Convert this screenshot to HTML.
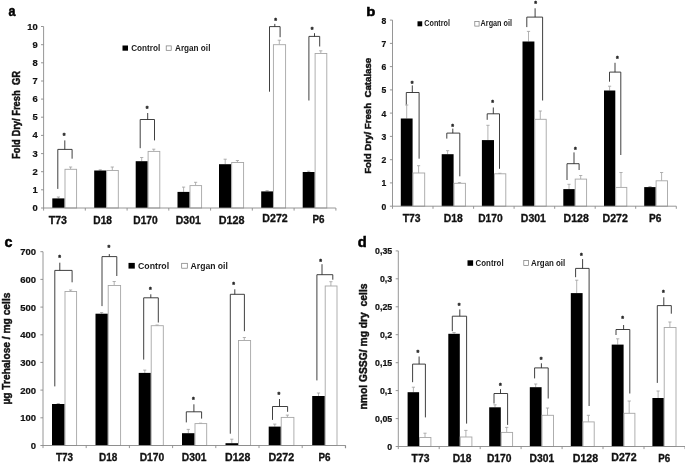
<!DOCTYPE html>
<html lang="en">
<head>
<meta charset="utf-8">
<title>Figure</title>
<style>
html,body{margin:0;padding:0;background:#fff;}
body{width:685px;height:463px;overflow:hidden;}
svg{display:block;font-family:'Liberation Sans', Arial, sans-serif;}
</style>
</head>
<body>
<svg width="685" height="463" viewBox="0 0 685 463">
<rect x="0" y="0" width="685" height="463" fill="#ffffff"/>
<line x1="58.4" y1="198.4" x2="58.4" y2="197.0" stroke="#a0a0a0" stroke-width="0.8"/>
<line x1="56.8" y1="197.0" x2="60.0" y2="197.0" stroke="#a0a0a0" stroke-width="0.8"/>
<rect x="52.3" y="198.4" width="12.3" height="9.6" fill="#000"/>
<line x1="70.6" y1="169.3" x2="70.6" y2="167.0" stroke="#a0a0a0" stroke-width="0.8"/>
<line x1="69.0" y1="167.0" x2="72.2" y2="167.0" stroke="#a0a0a0" stroke-width="0.8"/>
<rect x="65.0" y="169.3" width="11.6" height="38.7" fill="#fff" stroke="#a6a6a6" stroke-width="0.9"/>
<line x1="100.2" y1="170.5" x2="100.2" y2="169.8" stroke="#a0a0a0" stroke-width="0.8"/>
<line x1="98.7" y1="169.8" x2="101.8" y2="169.8" stroke="#a0a0a0" stroke-width="0.8"/>
<rect x="94.2" y="170.5" width="12.1" height="37.5" fill="#000"/>
<line x1="112.3" y1="170.5" x2="112.3" y2="167.0" stroke="#a0a0a0" stroke-width="0.8"/>
<line x1="110.7" y1="167.0" x2="113.9" y2="167.0" stroke="#a0a0a0" stroke-width="0.8"/>
<rect x="106.7" y="170.5" width="11.6" height="37.5" fill="#fff" stroke="#a6a6a6" stroke-width="0.9"/>
<line x1="141.7" y1="161.2" x2="141.7" y2="157.5" stroke="#a0a0a0" stroke-width="0.8"/>
<line x1="140.1" y1="157.5" x2="143.3" y2="157.5" stroke="#a0a0a0" stroke-width="0.8"/>
<rect x="135.7" y="161.2" width="12.0" height="46.8" fill="#000"/>
<line x1="153.8" y1="151.4" x2="153.8" y2="149.2" stroke="#a0a0a0" stroke-width="0.8"/>
<line x1="152.2" y1="149.2" x2="155.3" y2="149.2" stroke="#a0a0a0" stroke-width="0.8"/>
<rect x="148.1" y="151.4" width="11.7" height="56.6" fill="#fff" stroke="#a6a6a6" stroke-width="0.9"/>
<line x1="183.6" y1="191.9" x2="183.6" y2="187.1" stroke="#a0a0a0" stroke-width="0.8"/>
<line x1="182.0" y1="187.1" x2="185.2" y2="187.1" stroke="#a0a0a0" stroke-width="0.8"/>
<rect x="177.5" y="191.9" width="12.1" height="16.1" fill="#000"/>
<line x1="195.6" y1="185.6" x2="195.6" y2="182.3" stroke="#a0a0a0" stroke-width="0.8"/>
<line x1="194.0" y1="182.3" x2="197.2" y2="182.3" stroke="#a0a0a0" stroke-width="0.8"/>
<rect x="190.0" y="185.6" width="11.6" height="22.4" fill="#fff" stroke="#a6a6a6" stroke-width="0.9"/>
<line x1="225.2" y1="164.2" x2="225.2" y2="159.2" stroke="#a0a0a0" stroke-width="0.8"/>
<line x1="223.6" y1="159.2" x2="226.8" y2="159.2" stroke="#a0a0a0" stroke-width="0.8"/>
<rect x="219.0" y="164.2" width="12.3" height="43.8" fill="#000"/>
<line x1="237.4" y1="162.5" x2="237.4" y2="160.5" stroke="#a0a0a0" stroke-width="0.8"/>
<line x1="235.8" y1="160.5" x2="239.0" y2="160.5" stroke="#a0a0a0" stroke-width="0.8"/>
<rect x="231.7" y="162.5" width="11.9" height="45.5" fill="#fff" stroke="#a6a6a6" stroke-width="0.9"/>
<line x1="267.1" y1="191.4" x2="267.1" y2="190.6" stroke="#a0a0a0" stroke-width="0.8"/>
<line x1="265.5" y1="190.6" x2="268.7" y2="190.6" stroke="#a0a0a0" stroke-width="0.8"/>
<rect x="261.2" y="191.4" width="11.8" height="16.6" fill="#000"/>
<line x1="279.3" y1="44.7" x2="279.3" y2="40.2" stroke="#a0a0a0" stroke-width="0.8"/>
<line x1="277.7" y1="40.2" x2="280.9" y2="40.2" stroke="#a0a0a0" stroke-width="0.8"/>
<rect x="273.4" y="44.7" width="12.2" height="163.3" fill="#fff" stroke="#a6a6a6" stroke-width="0.9"/>
<line x1="308.7" y1="172.0" x2="308.7" y2="171.2" stroke="#a0a0a0" stroke-width="0.8"/>
<line x1="307.1" y1="171.2" x2="310.3" y2="171.2" stroke="#a0a0a0" stroke-width="0.8"/>
<rect x="302.7" y="172.0" width="12.0" height="36.0" fill="#000"/>
<line x1="320.8" y1="53.5" x2="320.8" y2="50.8" stroke="#a0a0a0" stroke-width="0.8"/>
<line x1="319.1" y1="50.8" x2="322.4" y2="50.8" stroke="#a0a0a0" stroke-width="0.8"/>
<rect x="315.1" y="53.5" width="11.7" height="154.5" fill="#fff" stroke="#a6a6a6" stroke-width="0.9"/>
<line x1="43.6" y1="26.5" x2="43.6" y2="208.0" stroke="#8a8a8a" stroke-width="0.9"/>
<line x1="43.6" y1="208.0" x2="335.8" y2="208.0" stroke="#8a8a8a" stroke-width="0.9"/>
<line x1="41.0" y1="208.0" x2="43.6" y2="208.0" stroke="#8a8a8a" stroke-width="0.9"/>
<text x="37.8" y="211.0" font-size="9.4" font-weight="bold" text-anchor="end" fill="#111" stroke="#111" stroke-width="0.2">0</text>
<line x1="41.0" y1="189.8" x2="43.6" y2="189.8" stroke="#8a8a8a" stroke-width="0.9"/>
<text x="37.8" y="192.8" font-size="9.4" font-weight="bold" text-anchor="end" fill="#111" stroke="#111" stroke-width="0.2">1</text>
<line x1="41.0" y1="171.7" x2="43.6" y2="171.7" stroke="#8a8a8a" stroke-width="0.9"/>
<text x="37.8" y="174.7" font-size="9.4" font-weight="bold" text-anchor="end" fill="#111" stroke="#111" stroke-width="0.2">2</text>
<line x1="41.0" y1="153.6" x2="43.6" y2="153.6" stroke="#8a8a8a" stroke-width="0.9"/>
<text x="37.8" y="156.5" font-size="9.4" font-weight="bold" text-anchor="end" fill="#111" stroke="#111" stroke-width="0.2">3</text>
<line x1="41.0" y1="135.4" x2="43.6" y2="135.4" stroke="#8a8a8a" stroke-width="0.9"/>
<text x="37.8" y="138.4" font-size="9.4" font-weight="bold" text-anchor="end" fill="#111" stroke="#111" stroke-width="0.2">4</text>
<line x1="41.0" y1="117.2" x2="43.6" y2="117.2" stroke="#8a8a8a" stroke-width="0.9"/>
<text x="37.8" y="120.2" font-size="9.4" font-weight="bold" text-anchor="end" fill="#111" stroke="#111" stroke-width="0.2">5</text>
<line x1="41.0" y1="99.1" x2="43.6" y2="99.1" stroke="#8a8a8a" stroke-width="0.9"/>
<text x="37.8" y="102.1" font-size="9.4" font-weight="bold" text-anchor="end" fill="#111" stroke="#111" stroke-width="0.2">6</text>
<line x1="41.0" y1="81.0" x2="43.6" y2="81.0" stroke="#8a8a8a" stroke-width="0.9"/>
<text x="37.8" y="83.9" font-size="9.4" font-weight="bold" text-anchor="end" fill="#111" stroke="#111" stroke-width="0.2">7</text>
<line x1="41.0" y1="62.8" x2="43.6" y2="62.8" stroke="#8a8a8a" stroke-width="0.9"/>
<text x="37.8" y="65.8" font-size="9.4" font-weight="bold" text-anchor="end" fill="#111" stroke="#111" stroke-width="0.2">8</text>
<line x1="41.0" y1="44.7" x2="43.6" y2="44.7" stroke="#8a8a8a" stroke-width="0.9"/>
<text x="37.8" y="47.6" font-size="9.4" font-weight="bold" text-anchor="end" fill="#111" stroke="#111" stroke-width="0.2">9</text>
<line x1="41.0" y1="26.5" x2="43.6" y2="26.5" stroke="#8a8a8a" stroke-width="0.9"/>
<text x="37.8" y="29.5" font-size="9.4" font-weight="bold" text-anchor="end" fill="#111" stroke="#111" stroke-width="0.2">10</text>
<line x1="43.6" y1="208.0" x2="43.6" y2="210.6" stroke="#8a8a8a" stroke-width="0.9"/>
<line x1="85.3" y1="208.0" x2="85.3" y2="210.6" stroke="#8a8a8a" stroke-width="0.9"/>
<line x1="127.1" y1="208.0" x2="127.1" y2="210.6" stroke="#8a8a8a" stroke-width="0.9"/>
<line x1="168.8" y1="208.0" x2="168.8" y2="210.6" stroke="#8a8a8a" stroke-width="0.9"/>
<line x1="210.6" y1="208.0" x2="210.6" y2="210.6" stroke="#8a8a8a" stroke-width="0.9"/>
<line x1="252.3" y1="208.0" x2="252.3" y2="210.6" stroke="#8a8a8a" stroke-width="0.9"/>
<line x1="294.1" y1="208.0" x2="294.1" y2="210.6" stroke="#8a8a8a" stroke-width="0.9"/>
<line x1="335.9" y1="208.0" x2="335.9" y2="210.6" stroke="#8a8a8a" stroke-width="0.9"/>
<path d="M57.8 188.9V149.4H72.1V158.7M64.8 149.4V140.4" fill="none" stroke="#2a2a2a" stroke-width="0.9"/>
<text x="64.0" y="138.0" font-size="7" font-weight="bold" text-anchor="middle" fill="#222" stroke="#222" stroke-width="0.4">*</text>
<path d="M140.2 148.2V119.5H154.5V140.4M147.7 119.5V113.0" fill="none" stroke="#2a2a2a" stroke-width="0.9"/>
<text x="147.0" y="111.2" font-size="7" font-weight="bold" text-anchor="middle" fill="#222" stroke="#222" stroke-width="0.4">*</text>
<path d="M269.5 91.7V26.6H280.1V37.2M274.8 26.6V23.9" fill="none" stroke="#2a2a2a" stroke-width="0.9"/>
<text x="275.6" y="22.7" font-size="7" font-weight="bold" text-anchor="middle" fill="#222" stroke="#222" stroke-width="0.4">*</text>
<path d="M308.9 100.5V36.4H319.7V46.5M314.5 36.4V33.2" fill="none" stroke="#2a2a2a" stroke-width="0.9"/>
<text x="312.0" y="32.1" font-size="7" font-weight="bold" text-anchor="middle" fill="#222" stroke="#222" stroke-width="0.4">*</text>
<text x="57.9" y="223.5" font-size="10" font-weight="bold" text-anchor="middle" fill="#111" textLength="18.2" lengthAdjust="spacingAndGlyphs" stroke="#111" stroke-width="0.3">T73</text>
<text x="102.7" y="223.5" font-size="10" font-weight="bold" text-anchor="middle" fill="#111" textLength="18.7" lengthAdjust="spacingAndGlyphs" stroke="#111" stroke-width="0.3">D18</text>
<text x="145.5" y="223.5" font-size="10" font-weight="bold" text-anchor="middle" fill="#111" textLength="24.4" lengthAdjust="spacingAndGlyphs" stroke="#111" stroke-width="0.3">D170</text>
<text x="188.3" y="223.5" font-size="10" font-weight="bold" text-anchor="middle" fill="#111" textLength="25.0" lengthAdjust="spacingAndGlyphs" stroke="#111" stroke-width="0.3">D301</text>
<text x="231.7" y="223.5" font-size="10" font-weight="bold" text-anchor="middle" fill="#111" textLength="25.8" lengthAdjust="spacingAndGlyphs" stroke="#111" stroke-width="0.3">D128</text>
<text x="275.0" y="222.3" font-size="10" font-weight="bold" text-anchor="middle" fill="#111" textLength="25.4" lengthAdjust="spacingAndGlyphs" stroke="#111" stroke-width="0.3">D272</text>
<text x="318.5" y="223.3" font-size="10" font-weight="bold" text-anchor="middle" fill="#111" textLength="12.0" lengthAdjust="spacingAndGlyphs" stroke="#111" stroke-width="0.3">P6</text>
<rect x="122.5" y="45.5" width="5.5" height="5.2" fill="#000"/>
<text x="131.2" y="51.2" font-size="8.2" font-weight="bold" text-anchor="start" fill="#1a1a1a" textLength="29.0" lengthAdjust="spacingAndGlyphs">Control</text>
<rect x="166.2" y="45.9" width="5.0" height="4.4" fill="#fff" stroke="#777" stroke-width="0.7"/>
<text x="175.0" y="51.2" font-size="8.2" font-weight="bold" text-anchor="start" fill="#1a1a1a" textLength="35.4" lengthAdjust="spacingAndGlyphs">Argan oil</text>
<text x="20.2" y="115.0" font-size="10" font-weight="bold" text-anchor="middle" fill="#111" textLength="88.0" lengthAdjust="spacingAndGlyphs" transform="rotate(-90 20.2 115.0)" style="white-space:pre" stroke="#111" stroke-width="0.45">Fold Dry/ Fresh  GR</text>
<text x="8.6" y="16.3" font-size="14" font-weight="bold" text-anchor="start" fill="#000" textLength="7.0" lengthAdjust="spacingAndGlyphs" stroke="#000" stroke-width="0.5">a</text>
<line x1="406.7" y1="118.5" x2="406.7" y2="105.0" stroke="#a0a0a0" stroke-width="0.8"/>
<line x1="405.1" y1="105.0" x2="408.3" y2="105.0" stroke="#a0a0a0" stroke-width="0.8"/>
<rect x="400.8" y="118.5" width="11.8" height="87.7" fill="#000"/>
<line x1="418.6" y1="173.0" x2="418.6" y2="165.7" stroke="#a0a0a0" stroke-width="0.8"/>
<line x1="417.0" y1="165.7" x2="420.2" y2="165.7" stroke="#a0a0a0" stroke-width="0.8"/>
<rect x="413.0" y="173.0" width="11.7" height="33.2" fill="#fff" stroke="#a6a6a6" stroke-width="0.9"/>
<line x1="447.6" y1="154.2" x2="447.6" y2="150.7" stroke="#a0a0a0" stroke-width="0.8"/>
<line x1="446.0" y1="150.7" x2="449.2" y2="150.7" stroke="#a0a0a0" stroke-width="0.8"/>
<rect x="441.7" y="154.2" width="11.9" height="52.0" fill="#000"/>
<line x1="459.5" y1="183.3" x2="459.5" y2="182.6" stroke="#a0a0a0" stroke-width="0.8"/>
<line x1="457.9" y1="182.6" x2="461.1" y2="182.6" stroke="#a0a0a0" stroke-width="0.8"/>
<rect x="454.0" y="183.3" width="11.4" height="22.9" fill="#fff" stroke="#a6a6a6" stroke-width="0.9"/>
<line x1="487.9" y1="140.1" x2="487.9" y2="125.3" stroke="#a0a0a0" stroke-width="0.8"/>
<line x1="486.3" y1="125.3" x2="489.6" y2="125.3" stroke="#a0a0a0" stroke-width="0.8"/>
<rect x="481.9" y="140.1" width="12.1" height="66.1" fill="#000"/>
<line x1="499.9" y1="173.8" x2="499.9" y2="173.3" stroke="#a0a0a0" stroke-width="0.8"/>
<line x1="498.3" y1="173.3" x2="501.5" y2="173.3" stroke="#a0a0a0" stroke-width="0.8"/>
<rect x="494.4" y="173.8" width="11.4" height="32.4" fill="#fff" stroke="#a6a6a6" stroke-width="0.9"/>
<line x1="528.5" y1="41.5" x2="528.5" y2="31.4" stroke="#a0a0a0" stroke-width="0.8"/>
<line x1="526.9" y1="31.4" x2="530.1" y2="31.4" stroke="#a0a0a0" stroke-width="0.8"/>
<rect x="522.5" y="41.5" width="11.9" height="164.7" fill="#000"/>
<line x1="540.3" y1="119.3" x2="540.3" y2="111.0" stroke="#a0a0a0" stroke-width="0.8"/>
<line x1="538.7" y1="111.0" x2="541.9" y2="111.0" stroke="#a0a0a0" stroke-width="0.8"/>
<rect x="534.8" y="119.3" width="11.4" height="86.9" fill="#fff" stroke="#a6a6a6" stroke-width="0.9"/>
<line x1="569.0" y1="189.1" x2="569.0" y2="184.3" stroke="#a0a0a0" stroke-width="0.8"/>
<line x1="567.4" y1="184.3" x2="570.6" y2="184.3" stroke="#a0a0a0" stroke-width="0.8"/>
<rect x="563.3" y="189.1" width="11.5" height="17.1" fill="#000"/>
<line x1="580.7" y1="179.1" x2="580.7" y2="175.5" stroke="#a0a0a0" stroke-width="0.8"/>
<line x1="579.1" y1="175.5" x2="582.3" y2="175.5" stroke="#a0a0a0" stroke-width="0.8"/>
<rect x="575.2" y="179.1" width="11.4" height="27.1" fill="#fff" stroke="#a6a6a6" stroke-width="0.9"/>
<line x1="609.6" y1="90.5" x2="609.6" y2="86.2" stroke="#a0a0a0" stroke-width="0.8"/>
<line x1="608.0" y1="86.2" x2="611.2" y2="86.2" stroke="#a0a0a0" stroke-width="0.8"/>
<rect x="604.0" y="90.5" width="11.3" height="115.7" fill="#000"/>
<line x1="621.0" y1="187.4" x2="621.0" y2="172.5" stroke="#a0a0a0" stroke-width="0.8"/>
<line x1="619.4" y1="172.5" x2="622.6" y2="172.5" stroke="#a0a0a0" stroke-width="0.8"/>
<rect x="615.7" y="187.4" width="11.1" height="18.8" fill="#fff" stroke="#a6a6a6" stroke-width="0.9"/>
<line x1="650.0" y1="187.1" x2="650.0" y2="186.5" stroke="#a0a0a0" stroke-width="0.8"/>
<line x1="648.4" y1="186.5" x2="651.6" y2="186.5" stroke="#a0a0a0" stroke-width="0.8"/>
<rect x="644.2" y="187.1" width="11.5" height="19.1" fill="#000"/>
<line x1="661.6" y1="180.8" x2="661.6" y2="172.5" stroke="#a0a0a0" stroke-width="0.8"/>
<line x1="660.0" y1="172.5" x2="663.2" y2="172.5" stroke="#a0a0a0" stroke-width="0.8"/>
<rect x="656.1" y="180.8" width="11.4" height="25.4" fill="#fff" stroke="#a6a6a6" stroke-width="0.9"/>
<line x1="392.5" y1="20.1" x2="392.5" y2="206.2" stroke="#8a8a8a" stroke-width="0.9"/>
<line x1="392.5" y1="206.2" x2="676.3" y2="206.2" stroke="#8a8a8a" stroke-width="0.9"/>
<line x1="389.9" y1="206.2" x2="392.5" y2="206.2" stroke="#8a8a8a" stroke-width="0.9"/>
<text x="386.2" y="209.7" font-size="8.6" font-weight="bold" text-anchor="end" fill="#111" stroke="#111" stroke-width="0.2">0</text>
<line x1="389.9" y1="182.9" x2="392.5" y2="182.9" stroke="#8a8a8a" stroke-width="0.9"/>
<text x="386.2" y="186.4" font-size="8.6" font-weight="bold" text-anchor="end" fill="#111" stroke="#111" stroke-width="0.2">1</text>
<line x1="389.9" y1="159.7" x2="392.5" y2="159.7" stroke="#8a8a8a" stroke-width="0.9"/>
<text x="386.2" y="163.2" font-size="8.6" font-weight="bold" text-anchor="end" fill="#111" stroke="#111" stroke-width="0.2">2</text>
<line x1="389.9" y1="136.4" x2="392.5" y2="136.4" stroke="#8a8a8a" stroke-width="0.9"/>
<text x="386.2" y="139.9" font-size="8.6" font-weight="bold" text-anchor="end" fill="#111" stroke="#111" stroke-width="0.2">3</text>
<line x1="389.9" y1="113.1" x2="392.5" y2="113.1" stroke="#8a8a8a" stroke-width="0.9"/>
<text x="386.2" y="116.6" font-size="8.6" font-weight="bold" text-anchor="end" fill="#111" stroke="#111" stroke-width="0.2">4</text>
<line x1="389.9" y1="89.9" x2="392.5" y2="89.9" stroke="#8a8a8a" stroke-width="0.9"/>
<text x="386.2" y="93.4" font-size="8.6" font-weight="bold" text-anchor="end" fill="#111" stroke="#111" stroke-width="0.2">5</text>
<line x1="389.9" y1="66.6" x2="392.5" y2="66.6" stroke="#8a8a8a" stroke-width="0.9"/>
<text x="386.2" y="70.1" font-size="8.6" font-weight="bold" text-anchor="end" fill="#111" stroke="#111" stroke-width="0.2">6</text>
<line x1="389.9" y1="43.4" x2="392.5" y2="43.4" stroke="#8a8a8a" stroke-width="0.9"/>
<text x="386.2" y="46.9" font-size="8.6" font-weight="bold" text-anchor="end" fill="#111" stroke="#111" stroke-width="0.2">7</text>
<line x1="389.9" y1="20.1" x2="392.5" y2="20.1" stroke="#8a8a8a" stroke-width="0.9"/>
<text x="386.2" y="23.6" font-size="8.6" font-weight="bold" text-anchor="end" fill="#111" stroke="#111" stroke-width="0.2">8</text>
<line x1="392.5" y1="206.2" x2="392.5" y2="208.8" stroke="#8a8a8a" stroke-width="0.9"/>
<line x1="433.0" y1="206.2" x2="433.0" y2="208.8" stroke="#8a8a8a" stroke-width="0.9"/>
<line x1="473.6" y1="206.2" x2="473.6" y2="208.8" stroke="#8a8a8a" stroke-width="0.9"/>
<line x1="514.1" y1="206.2" x2="514.1" y2="208.8" stroke="#8a8a8a" stroke-width="0.9"/>
<line x1="554.7" y1="206.2" x2="554.7" y2="208.8" stroke="#8a8a8a" stroke-width="0.9"/>
<line x1="595.2" y1="206.2" x2="595.2" y2="208.8" stroke="#8a8a8a" stroke-width="0.9"/>
<line x1="635.7" y1="206.2" x2="635.7" y2="208.8" stroke="#8a8a8a" stroke-width="0.9"/>
<line x1="676.3" y1="206.2" x2="676.3" y2="208.8" stroke="#8a8a8a" stroke-width="0.9"/>
<path d="M406.3 104.5V92.5H419.1V158.7M412.3 92.5V85.4" fill="none" stroke="#2a2a2a" stroke-width="0.9"/>
<text x="412.1" y="86.1" font-size="7" font-weight="bold" text-anchor="middle" fill="#222" stroke="#222" stroke-width="0.4">*</text>
<path d="M446.8 138.6V133.1H459.8V176.3M452.8 133.1V128.6" fill="none" stroke="#2a2a2a" stroke-width="0.9"/>
<text x="452.5" y="129.2" font-size="7" font-weight="bold" text-anchor="middle" fill="#222" stroke="#222" stroke-width="0.4">*</text>
<path d="M487.2 119.8V113.8H499.5V168.8M493.3 113.8V107.5" fill="none" stroke="#2a2a2a" stroke-width="0.9"/>
<text x="492.7" y="105.2" font-size="7" font-weight="bold" text-anchor="middle" fill="#222" stroke="#222" stroke-width="0.4">*</text>
<path d="M526.8 27.1V17.1H542.6V100.5M535.1 17.1V8.3" fill="none" stroke="#2a2a2a" stroke-width="0.9"/>
<text x="535.6" y="5.9" font-size="7" font-weight="bold" text-anchor="middle" fill="#222" stroke="#222" stroke-width="0.4">*</text>
<path d="M567.0 180.0V163.7H579.1V170.0M574.0 163.7V152.4" fill="none" stroke="#2a2a2a" stroke-width="0.9"/>
<text x="575.3" y="152.4" font-size="7" font-weight="bold" text-anchor="middle" fill="#222" stroke="#222" stroke-width="0.4">*</text>
<path d="M609.5 81.7V72.1H620.8V155.0M615.0 72.1V62.8" fill="none" stroke="#2a2a2a" stroke-width="0.9"/>
<text x="617.3" y="61.0" font-size="7" font-weight="bold" text-anchor="middle" fill="#222" stroke="#222" stroke-width="0.4">*</text>
<text x="411.7" y="222.3" font-size="10" font-weight="bold" text-anchor="middle" fill="#111" textLength="17.8" lengthAdjust="spacingAndGlyphs" stroke="#111" stroke-width="0.3">T73</text>
<text x="453.3" y="222.3" font-size="10" font-weight="bold" text-anchor="middle" fill="#111" textLength="19.0" lengthAdjust="spacingAndGlyphs" stroke="#111" stroke-width="0.3">D18</text>
<text x="490.4" y="222.3" font-size="10" font-weight="bold" text-anchor="middle" fill="#111" textLength="24.5" lengthAdjust="spacingAndGlyphs" stroke="#111" stroke-width="0.3">D170</text>
<text x="533.4" y="222.3" font-size="10" font-weight="bold" text-anchor="middle" fill="#111" textLength="25.1" lengthAdjust="spacingAndGlyphs" stroke="#111" stroke-width="0.3">D301</text>
<text x="576.2" y="222.3" font-size="10" font-weight="bold" text-anchor="middle" fill="#111" textLength="25.2" lengthAdjust="spacingAndGlyphs" stroke="#111" stroke-width="0.3">D128</text>
<text x="615.2" y="221.5" font-size="10" font-weight="bold" text-anchor="middle" fill="#111" textLength="25.3" lengthAdjust="spacingAndGlyphs" stroke="#111" stroke-width="0.3">D272</text>
<text x="655.2" y="222.3" font-size="10" font-weight="bold" text-anchor="middle" fill="#111" textLength="12.4" lengthAdjust="spacingAndGlyphs" stroke="#111" stroke-width="0.3">P6</text>
<rect x="417.5" y="21.3" width="4.7" height="5.0" fill="#000"/>
<text x="424.3" y="26.3" font-size="8.2" font-weight="bold" text-anchor="start" fill="#1a1a1a" textLength="25.6" lengthAdjust="spacingAndGlyphs">Control</text>
<rect x="474.8" y="21.5" width="4.3" height="4.6" fill="#fff" stroke="#777" stroke-width="0.7"/>
<text x="480.6" y="26.3" font-size="8.2" font-weight="bold" text-anchor="start" fill="#1a1a1a" textLength="31.4" lengthAdjust="spacingAndGlyphs">Argan oil</text>
<text x="371.5" y="115.8" font-size="8.8" font-weight="bold" text-anchor="middle" fill="#111" textLength="116.0" lengthAdjust="spacingAndGlyphs" transform="rotate(-90 371.5 115.8)" style="white-space:pre" stroke="#111" stroke-width="0.45">Fold Dry/ Fresh  Catalase</text>
<text x="366.2" y="16.4" font-size="13.6" font-weight="bold" text-anchor="start" fill="#000" textLength="9.1" lengthAdjust="spacingAndGlyphs" stroke="#000" stroke-width="0.5">b</text>
<line x1="58.3" y1="404.0" x2="58.3" y2="403.5" stroke="#a0a0a0" stroke-width="0.8"/>
<line x1="56.7" y1="403.5" x2="59.9" y2="403.5" stroke="#a0a0a0" stroke-width="0.8"/>
<rect x="52.0" y="404.0" width="12.6" height="41.5" fill="#000"/>
<line x1="70.6" y1="291.5" x2="70.6" y2="290.0" stroke="#a0a0a0" stroke-width="0.8"/>
<line x1="69.0" y1="290.0" x2="72.2" y2="290.0" stroke="#a0a0a0" stroke-width="0.8"/>
<rect x="65.0" y="291.5" width="11.6" height="154.0" fill="#fff" stroke="#a6a6a6" stroke-width="0.9"/>
<line x1="101.7" y1="313.7" x2="101.7" y2="312.5" stroke="#a0a0a0" stroke-width="0.8"/>
<line x1="100.1" y1="312.5" x2="103.2" y2="312.5" stroke="#a0a0a0" stroke-width="0.8"/>
<rect x="95.5" y="313.7" width="12.3" height="131.8" fill="#000"/>
<line x1="114.2" y1="285.5" x2="114.2" y2="281.5" stroke="#a0a0a0" stroke-width="0.8"/>
<line x1="112.6" y1="281.5" x2="115.8" y2="281.5" stroke="#a0a0a0" stroke-width="0.8"/>
<rect x="108.2" y="285.5" width="12.4" height="160.0" fill="#fff" stroke="#a6a6a6" stroke-width="0.9"/>
<line x1="144.8" y1="372.9" x2="144.8" y2="370.1" stroke="#a0a0a0" stroke-width="0.8"/>
<line x1="143.2" y1="370.1" x2="146.3" y2="370.1" stroke="#a0a0a0" stroke-width="0.8"/>
<rect x="138.7" y="372.9" width="12.1" height="72.6" fill="#000"/>
<line x1="157.1" y1="325.7" x2="157.1" y2="325.0" stroke="#a0a0a0" stroke-width="0.8"/>
<line x1="155.5" y1="325.0" x2="158.7" y2="325.0" stroke="#a0a0a0" stroke-width="0.8"/>
<rect x="151.2" y="325.7" width="12.1" height="119.8" fill="#fff" stroke="#a6a6a6" stroke-width="0.9"/>
<line x1="188.3" y1="433.2" x2="188.3" y2="429.4" stroke="#a0a0a0" stroke-width="0.8"/>
<line x1="186.7" y1="429.4" x2="189.9" y2="429.4" stroke="#a0a0a0" stroke-width="0.8"/>
<rect x="182.0" y="433.2" width="12.6" height="12.3" fill="#000"/>
<line x1="200.6" y1="423.6" x2="200.6" y2="423.2" stroke="#a0a0a0" stroke-width="0.8"/>
<line x1="199.0" y1="423.2" x2="202.2" y2="423.2" stroke="#a0a0a0" stroke-width="0.8"/>
<rect x="195.0" y="423.6" width="11.7" height="21.9" fill="#fff" stroke="#a6a6a6" stroke-width="0.9"/>
<line x1="231.8" y1="443.2" x2="231.8" y2="439.2" stroke="#a0a0a0" stroke-width="0.8"/>
<line x1="230.2" y1="439.2" x2="233.4" y2="439.2" stroke="#a0a0a0" stroke-width="0.8"/>
<rect x="225.5" y="443.2" width="12.6" height="2.3" fill="#000"/>
<line x1="244.3" y1="340.5" x2="244.3" y2="337.5" stroke="#a0a0a0" stroke-width="0.8"/>
<line x1="242.8" y1="337.5" x2="245.9" y2="337.5" stroke="#a0a0a0" stroke-width="0.8"/>
<rect x="238.5" y="340.5" width="12.1" height="105.0" fill="#fff" stroke="#a6a6a6" stroke-width="0.9"/>
<line x1="274.8" y1="426.6" x2="274.8" y2="424.1" stroke="#a0a0a0" stroke-width="0.8"/>
<line x1="273.1" y1="424.1" x2="276.4" y2="424.1" stroke="#a0a0a0" stroke-width="0.8"/>
<rect x="268.7" y="426.6" width="12.1" height="18.9" fill="#000"/>
<line x1="287.4" y1="417.4" x2="287.4" y2="415.1" stroke="#a0a0a0" stroke-width="0.8"/>
<line x1="285.8" y1="415.1" x2="289.0" y2="415.1" stroke="#a0a0a0" stroke-width="0.8"/>
<rect x="281.2" y="417.4" width="12.7" height="28.1" fill="#fff" stroke="#a6a6a6" stroke-width="0.9"/>
<line x1="318.5" y1="396.0" x2="318.5" y2="393.0" stroke="#a0a0a0" stroke-width="0.8"/>
<line x1="316.9" y1="393.0" x2="320.1" y2="393.0" stroke="#a0a0a0" stroke-width="0.8"/>
<rect x="312.2" y="396.0" width="12.6" height="49.5" fill="#000"/>
<line x1="330.9" y1="286.0" x2="330.9" y2="281.7" stroke="#a0a0a0" stroke-width="0.8"/>
<line x1="329.3" y1="281.7" x2="332.5" y2="281.7" stroke="#a0a0a0" stroke-width="0.8"/>
<rect x="325.2" y="286.0" width="11.8" height="159.5" fill="#fff" stroke="#a6a6a6" stroke-width="0.9"/>
<line x1="43.0" y1="251.7" x2="43.0" y2="445.5" stroke="#8a8a8a" stroke-width="0.9"/>
<line x1="43.0" y1="445.5" x2="345.6" y2="445.5" stroke="#8a8a8a" stroke-width="0.9"/>
<line x1="40.4" y1="445.5" x2="43.0" y2="445.5" stroke="#8a8a8a" stroke-width="0.9"/>
<text x="36.1" y="448.9" font-size="9.5" font-weight="bold" text-anchor="end" fill="#111" stroke="#111" stroke-width="0.2">0</text>
<line x1="40.4" y1="417.8" x2="43.0" y2="417.8" stroke="#8a8a8a" stroke-width="0.9"/>
<text x="36.1" y="421.2" font-size="9.5" font-weight="bold" text-anchor="end" fill="#111" stroke="#111" stroke-width="0.2">100</text>
<line x1="40.4" y1="390.1" x2="43.0" y2="390.1" stroke="#8a8a8a" stroke-width="0.9"/>
<text x="36.1" y="393.5" font-size="9.5" font-weight="bold" text-anchor="end" fill="#111" stroke="#111" stroke-width="0.2">200</text>
<line x1="40.4" y1="362.4" x2="43.0" y2="362.4" stroke="#8a8a8a" stroke-width="0.9"/>
<text x="36.1" y="365.9" font-size="9.5" font-weight="bold" text-anchor="end" fill="#111" stroke="#111" stroke-width="0.2">300</text>
<line x1="40.4" y1="334.8" x2="43.0" y2="334.8" stroke="#8a8a8a" stroke-width="0.9"/>
<text x="36.1" y="338.2" font-size="9.5" font-weight="bold" text-anchor="end" fill="#111" stroke="#111" stroke-width="0.2">400</text>
<line x1="40.4" y1="307.1" x2="43.0" y2="307.1" stroke="#8a8a8a" stroke-width="0.9"/>
<text x="36.1" y="310.5" font-size="9.5" font-weight="bold" text-anchor="end" fill="#111" stroke="#111" stroke-width="0.2">500</text>
<line x1="40.4" y1="279.4" x2="43.0" y2="279.4" stroke="#8a8a8a" stroke-width="0.9"/>
<text x="36.1" y="282.8" font-size="9.5" font-weight="bold" text-anchor="end" fill="#111" stroke="#111" stroke-width="0.2">600</text>
<line x1="40.4" y1="251.7" x2="43.0" y2="251.7" stroke="#8a8a8a" stroke-width="0.9"/>
<text x="36.1" y="255.1" font-size="9.5" font-weight="bold" text-anchor="end" fill="#111" stroke="#111" stroke-width="0.2">700</text>
<line x1="43.0" y1="445.5" x2="43.0" y2="448.1" stroke="#8a8a8a" stroke-width="0.9"/>
<line x1="86.2" y1="445.5" x2="86.2" y2="448.1" stroke="#8a8a8a" stroke-width="0.9"/>
<line x1="129.4" y1="445.5" x2="129.4" y2="448.1" stroke="#8a8a8a" stroke-width="0.9"/>
<line x1="172.6" y1="445.5" x2="172.6" y2="448.1" stroke="#8a8a8a" stroke-width="0.9"/>
<line x1="215.8" y1="445.5" x2="215.8" y2="448.1" stroke="#8a8a8a" stroke-width="0.9"/>
<line x1="259.0" y1="445.5" x2="259.0" y2="448.1" stroke="#8a8a8a" stroke-width="0.9"/>
<line x1="302.2" y1="445.5" x2="302.2" y2="448.1" stroke="#8a8a8a" stroke-width="0.9"/>
<line x1="345.4" y1="445.5" x2="345.4" y2="448.1" stroke="#8a8a8a" stroke-width="0.9"/>
<path d="M54.8 386.4V270.4H72.1V282.3M59.8 270.4V262.7" fill="none" stroke="#2a2a2a" stroke-width="0.9"/>
<text x="59.5" y="260.3" font-size="7" font-weight="bold" text-anchor="middle" fill="#222" stroke="#222" stroke-width="0.4">*</text>
<path d="M102.0 306.1V256.6H116.8V276.0M109.3 256.6V254.1" fill="none" stroke="#2a2a2a" stroke-width="0.9"/>
<text x="108.8" y="250.3" font-size="7" font-weight="bold" text-anchor="middle" fill="#222" stroke="#222" stroke-width="0.4">*</text>
<path d="M143.7 359.6V297.8H158.3V322.5M150.8 297.8V294.3" fill="none" stroke="#2a2a2a" stroke-width="0.9"/>
<text x="150.3" y="292.2" font-size="7" font-weight="bold" text-anchor="middle" fill="#222" stroke="#222" stroke-width="0.4">*</text>
<path d="M186.3 422.4V411.8H201.6V418.6M193.9 411.8V404.3" fill="none" stroke="#2a2a2a" stroke-width="0.9"/>
<text x="193.4" y="401.7" font-size="7" font-weight="bold" text-anchor="middle" fill="#222" stroke="#222" stroke-width="0.4">*</text>
<path d="M230.3 433.7V294.3H244.4V331.2M234.8 294.3V289.3" fill="none" stroke="#2a2a2a" stroke-width="0.9"/>
<text x="233.6" y="287.2" font-size="7" font-weight="bold" text-anchor="middle" fill="#222" stroke="#222" stroke-width="0.4">*</text>
<path d="M272.5 419.9V406.5H287.6V411.8M279.5 406.5V399.0" fill="none" stroke="#2a2a2a" stroke-width="0.9"/>
<text x="278.8" y="396.7" font-size="7" font-weight="bold" text-anchor="middle" fill="#222" stroke="#222" stroke-width="0.4">*</text>
<path d="M316.9 380.4V274.7H332.8V279.7M322.0 274.7V264.2" fill="none" stroke="#2a2a2a" stroke-width="0.9"/>
<text x="320.7" y="263.8" font-size="7" font-weight="bold" text-anchor="middle" fill="#222" stroke="#222" stroke-width="0.4">*</text>
<text x="64.6" y="461.3" font-size="10" font-weight="bold" text-anchor="middle" fill="#111" textLength="17.0" lengthAdjust="spacingAndGlyphs" stroke="#111" stroke-width="0.3">T73</text>
<text x="108.2" y="461.3" font-size="10" font-weight="bold" text-anchor="middle" fill="#111" textLength="18.3" lengthAdjust="spacingAndGlyphs" stroke="#111" stroke-width="0.3">D18</text>
<text x="152.0" y="461.3" font-size="10" font-weight="bold" text-anchor="middle" fill="#111" textLength="24.6" lengthAdjust="spacingAndGlyphs" stroke="#111" stroke-width="0.3">D170</text>
<text x="194.1" y="461.3" font-size="10" font-weight="bold" text-anchor="middle" fill="#111" textLength="24.6" lengthAdjust="spacingAndGlyphs" stroke="#111" stroke-width="0.3">D301</text>
<text x="237.7" y="461.3" font-size="10" font-weight="bold" text-anchor="middle" fill="#111" textLength="25.2" lengthAdjust="spacingAndGlyphs" stroke="#111" stroke-width="0.3">D128</text>
<text x="281.3" y="460.5" font-size="10" font-weight="bold" text-anchor="middle" fill="#111" textLength="25.6" lengthAdjust="spacingAndGlyphs" stroke="#111" stroke-width="0.3">D272</text>
<text x="324.5" y="461.3" font-size="10" font-weight="bold" text-anchor="middle" fill="#111" textLength="12.0" lengthAdjust="spacingAndGlyphs" stroke="#111" stroke-width="0.3">P6</text>
<rect x="128.5" y="262.9" width="6.3" height="5.7" fill="#000"/>
<text x="138.0" y="269.0" font-size="9.6" font-weight="bold" text-anchor="start" fill="#1a1a1a" textLength="31.1" lengthAdjust="spacingAndGlyphs">Control</text>
<rect x="181.7" y="263.3" width="5.6" height="4.9" fill="#fff" stroke="#777" stroke-width="0.7"/>
<text x="190.6" y="269.0" font-size="9.6" font-weight="bold" text-anchor="start" fill="#1a1a1a" textLength="37.3" lengthAdjust="spacingAndGlyphs">Argan oil</text>
<text x="9.6" y="348.6" font-size="10" font-weight="bold" text-anchor="middle" fill="#111" textLength="112.0" lengthAdjust="spacingAndGlyphs" transform="rotate(-90 9.6 348.6)" style="white-space:pre" stroke="#111" stroke-width="0.45">µg Trehalose / mg cells</text>
<text x="4.6" y="247.4" font-size="15" font-weight="bold" text-anchor="start" fill="#000" textLength="7.9" lengthAdjust="spacingAndGlyphs" stroke="#000" stroke-width="0.5">c</text>
<line x1="413.4" y1="392.2" x2="413.4" y2="387.2" stroke="#a0a0a0" stroke-width="0.8"/>
<line x1="411.8" y1="387.2" x2="415.0" y2="387.2" stroke="#a0a0a0" stroke-width="0.8"/>
<rect x="407.6" y="392.2" width="11.5" height="54.3" fill="#000"/>
<line x1="425.0" y1="437.5" x2="425.0" y2="433.2" stroke="#a0a0a0" stroke-width="0.8"/>
<line x1="423.4" y1="433.2" x2="426.6" y2="433.2" stroke="#a0a0a0" stroke-width="0.8"/>
<rect x="419.5" y="437.5" width="11.4" height="9.0" fill="#fff" stroke="#a6a6a6" stroke-width="0.9"/>
<line x1="454.1" y1="333.8" x2="454.1" y2="332.5" stroke="#a0a0a0" stroke-width="0.8"/>
<line x1="452.4" y1="332.5" x2="455.7" y2="332.5" stroke="#a0a0a0" stroke-width="0.8"/>
<rect x="448.3" y="333.8" width="11.5" height="112.7" fill="#000"/>
<line x1="465.9" y1="437.0" x2="465.9" y2="430.4" stroke="#a0a0a0" stroke-width="0.8"/>
<line x1="464.2" y1="430.4" x2="467.5" y2="430.4" stroke="#a0a0a0" stroke-width="0.8"/>
<rect x="460.2" y="437.0" width="11.7" height="9.5" fill="#fff" stroke="#a6a6a6" stroke-width="0.9"/>
<line x1="495.0" y1="407.3" x2="495.0" y2="404.8" stroke="#a0a0a0" stroke-width="0.8"/>
<line x1="493.4" y1="404.8" x2="496.6" y2="404.8" stroke="#a0a0a0" stroke-width="0.8"/>
<rect x="489.2" y="407.3" width="11.6" height="39.2" fill="#000"/>
<line x1="506.7" y1="432.4" x2="506.7" y2="427.4" stroke="#a0a0a0" stroke-width="0.8"/>
<line x1="505.1" y1="427.4" x2="508.3" y2="427.4" stroke="#a0a0a0" stroke-width="0.8"/>
<rect x="501.2" y="432.4" width="11.4" height="14.1" fill="#fff" stroke="#a6a6a6" stroke-width="0.9"/>
<line x1="535.7" y1="387.2" x2="535.7" y2="384.0" stroke="#a0a0a0" stroke-width="0.8"/>
<line x1="534.1" y1="384.0" x2="537.3" y2="384.0" stroke="#a0a0a0" stroke-width="0.8"/>
<rect x="529.8" y="387.2" width="11.8" height="59.3" fill="#000"/>
<line x1="547.5" y1="415.3" x2="547.5" y2="408.0" stroke="#a0a0a0" stroke-width="0.8"/>
<line x1="545.9" y1="408.0" x2="549.1" y2="408.0" stroke="#a0a0a0" stroke-width="0.8"/>
<rect x="542.0" y="415.3" width="11.5" height="31.2" fill="#fff" stroke="#a6a6a6" stroke-width="0.9"/>
<line x1="576.7" y1="293.1" x2="576.7" y2="280.2" stroke="#a0a0a0" stroke-width="0.8"/>
<line x1="575.1" y1="280.2" x2="578.3" y2="280.2" stroke="#a0a0a0" stroke-width="0.8"/>
<rect x="570.8" y="293.1" width="11.8" height="153.4" fill="#000"/>
<line x1="588.4" y1="421.9" x2="588.4" y2="415.3" stroke="#a0a0a0" stroke-width="0.8"/>
<line x1="586.8" y1="415.3" x2="590.0" y2="415.3" stroke="#a0a0a0" stroke-width="0.8"/>
<rect x="583.0" y="421.9" width="11.2" height="24.6" fill="#fff" stroke="#a6a6a6" stroke-width="0.9"/>
<line x1="617.7" y1="344.6" x2="617.7" y2="338.8" stroke="#a0a0a0" stroke-width="0.8"/>
<line x1="616.1" y1="338.8" x2="619.3" y2="338.8" stroke="#a0a0a0" stroke-width="0.8"/>
<rect x="611.7" y="344.6" width="11.9" height="101.9" fill="#000"/>
<line x1="629.2" y1="413.3" x2="629.2" y2="401.0" stroke="#a0a0a0" stroke-width="0.8"/>
<line x1="627.6" y1="401.0" x2="630.9" y2="401.0" stroke="#a0a0a0" stroke-width="0.8"/>
<rect x="624.0" y="413.3" width="10.9" height="33.2" fill="#fff" stroke="#a6a6a6" stroke-width="0.9"/>
<line x1="658.1" y1="398.0" x2="658.1" y2="391.0" stroke="#a0a0a0" stroke-width="0.8"/>
<line x1="656.5" y1="391.0" x2="659.7" y2="391.0" stroke="#a0a0a0" stroke-width="0.8"/>
<rect x="652.4" y="398.0" width="11.4" height="48.5" fill="#000"/>
<line x1="669.9" y1="327.5" x2="669.9" y2="322.0" stroke="#a0a0a0" stroke-width="0.8"/>
<line x1="668.3" y1="322.0" x2="671.5" y2="322.0" stroke="#a0a0a0" stroke-width="0.8"/>
<rect x="664.2" y="327.5" width="11.8" height="119.0" fill="#fff" stroke="#a6a6a6" stroke-width="0.9"/>
<line x1="398.3" y1="250.9" x2="398.3" y2="446.5" stroke="#8a8a8a" stroke-width="0.9"/>
<line x1="398.3" y1="446.5" x2="685.0" y2="446.5" stroke="#8a8a8a" stroke-width="0.9"/>
<line x1="395.7" y1="446.5" x2="398.3" y2="446.5" stroke="#8a8a8a" stroke-width="0.9"/>
<text x="392.2" y="449.9" font-size="8.8" font-weight="bold" text-anchor="end" fill="#111" stroke="#111" stroke-width="0.2">0</text>
<line x1="395.7" y1="418.6" x2="398.3" y2="418.6" stroke="#8a8a8a" stroke-width="0.9"/>
<text x="392.2" y="421.9" font-size="8.8" font-weight="bold" text-anchor="end" fill="#111" stroke="#111" stroke-width="0.2">0,05</text>
<line x1="395.7" y1="390.6" x2="398.3" y2="390.6" stroke="#8a8a8a" stroke-width="0.9"/>
<text x="392.2" y="394.0" font-size="8.8" font-weight="bold" text-anchor="end" fill="#111" stroke="#111" stroke-width="0.2">0,1</text>
<line x1="395.7" y1="362.7" x2="398.3" y2="362.7" stroke="#8a8a8a" stroke-width="0.9"/>
<text x="392.2" y="366.0" font-size="8.8" font-weight="bold" text-anchor="end" fill="#111" stroke="#111" stroke-width="0.2">0,15</text>
<line x1="395.7" y1="334.7" x2="398.3" y2="334.7" stroke="#8a8a8a" stroke-width="0.9"/>
<text x="392.2" y="338.1" font-size="8.8" font-weight="bold" text-anchor="end" fill="#111" stroke="#111" stroke-width="0.2">0,2</text>
<line x1="395.7" y1="306.8" x2="398.3" y2="306.8" stroke="#8a8a8a" stroke-width="0.9"/>
<text x="392.2" y="310.2" font-size="8.8" font-weight="bold" text-anchor="end" fill="#111" stroke="#111" stroke-width="0.2">0,25</text>
<line x1="395.7" y1="278.8" x2="398.3" y2="278.8" stroke="#8a8a8a" stroke-width="0.9"/>
<text x="392.2" y="282.2" font-size="8.8" font-weight="bold" text-anchor="end" fill="#111" stroke="#111" stroke-width="0.2">0,3</text>
<line x1="395.7" y1="250.9" x2="398.3" y2="250.9" stroke="#8a8a8a" stroke-width="0.9"/>
<text x="392.2" y="254.3" font-size="8.8" font-weight="bold" text-anchor="end" fill="#111" stroke="#111" stroke-width="0.2">0,35</text>
<line x1="398.3" y1="446.5" x2="398.3" y2="449.1" stroke="#8a8a8a" stroke-width="0.9"/>
<line x1="439.2" y1="446.5" x2="439.2" y2="449.1" stroke="#8a8a8a" stroke-width="0.9"/>
<line x1="480.2" y1="446.5" x2="480.2" y2="449.1" stroke="#8a8a8a" stroke-width="0.9"/>
<line x1="521.1" y1="446.5" x2="521.1" y2="449.1" stroke="#8a8a8a" stroke-width="0.9"/>
<line x1="562.1" y1="446.5" x2="562.1" y2="449.1" stroke="#8a8a8a" stroke-width="0.9"/>
<line x1="603.0" y1="446.5" x2="603.0" y2="449.1" stroke="#8a8a8a" stroke-width="0.9"/>
<line x1="644.0" y1="446.5" x2="644.0" y2="449.1" stroke="#8a8a8a" stroke-width="0.9"/>
<line x1="685.0" y1="446.5" x2="685.0" y2="449.1" stroke="#8a8a8a" stroke-width="0.9"/>
<path d="M412.6 382.2V364.1H425.4V417.4M419.1 364.1V356.5" fill="none" stroke="#2a2a2a" stroke-width="0.9"/>
<text x="417.9" y="355.2" font-size="7" font-weight="bold" text-anchor="middle" fill="#222" stroke="#222" stroke-width="0.4">*</text>
<path d="M452.3 331.2V316.2H466.6V423.6M459.8 316.2V309.4" fill="none" stroke="#2a2a2a" stroke-width="0.9"/>
<text x="459.1" y="308.1" font-size="7" font-weight="bold" text-anchor="middle" fill="#222" stroke="#222" stroke-width="0.4">*</text>
<path d="M494.0 403.5V393.5H507.6V424.9M500.5 393.5V389.2" fill="none" stroke="#2a2a2a" stroke-width="0.9"/>
<text x="500.3" y="387.9" font-size="7" font-weight="bold" text-anchor="middle" fill="#222" stroke="#222" stroke-width="0.4">*</text>
<path d="M534.6 378.4V367.9H548.2V398.5M541.4 367.9V363.3" fill="none" stroke="#2a2a2a" stroke-width="0.9"/>
<text x="541.1" y="361.5" font-size="7" font-weight="bold" text-anchor="middle" fill="#222" stroke="#222" stroke-width="0.4">*</text>
<path d="M575.6 277.2V268.4H589.1V406.0M582.6 268.4V259.1" fill="none" stroke="#2a2a2a" stroke-width="0.9"/>
<text x="581.3" y="257.8" font-size="7" font-weight="bold" text-anchor="middle" fill="#222" stroke="#222" stroke-width="0.4">*</text>
<path d="M616.0 335.0V329.5H629.8V393.5M623.6 329.5V325.0" fill="none" stroke="#2a2a2a" stroke-width="0.9"/>
<text x="622.5" y="320.6" font-size="7" font-weight="bold" text-anchor="middle" fill="#222" stroke="#222" stroke-width="0.4">*</text>
<path d="M657.3 382.9V305.6H671.3V313.7M663.8 305.6V297.3" fill="none" stroke="#2a2a2a" stroke-width="0.9"/>
<text x="663.3" y="295.2" font-size="7" font-weight="bold" text-anchor="middle" fill="#222" stroke="#222" stroke-width="0.4">*</text>
<text x="420.5" y="462.0" font-size="10" font-weight="bold" text-anchor="middle" fill="#111" textLength="17.8" lengthAdjust="spacingAndGlyphs" stroke="#111" stroke-width="0.3">T73</text>
<text x="462.0" y="462.0" font-size="10" font-weight="bold" text-anchor="middle" fill="#111" textLength="18.7" lengthAdjust="spacingAndGlyphs" stroke="#111" stroke-width="0.3">D18</text>
<text x="499.2" y="462.0" font-size="10" font-weight="bold" text-anchor="middle" fill="#111" textLength="24.5" lengthAdjust="spacingAndGlyphs" stroke="#111" stroke-width="0.3">D170</text>
<text x="541.9" y="462.0" font-size="10" font-weight="bold" text-anchor="middle" fill="#111" textLength="24.6" lengthAdjust="spacingAndGlyphs" stroke="#111" stroke-width="0.3">D301</text>
<text x="585.5" y="462.0" font-size="10" font-weight="bold" text-anchor="middle" fill="#111" textLength="25.3" lengthAdjust="spacingAndGlyphs" stroke="#111" stroke-width="0.3">D128</text>
<text x="624.0" y="461.3" font-size="10" font-weight="bold" text-anchor="middle" fill="#111" textLength="25.3" lengthAdjust="spacingAndGlyphs" stroke="#111" stroke-width="0.3">D272</text>
<text x="664.2" y="462.0" font-size="10" font-weight="bold" text-anchor="middle" fill="#111" textLength="11.9" lengthAdjust="spacingAndGlyphs" stroke="#111" stroke-width="0.3">P6</text>
<rect x="467.5" y="260.3" width="5.6" height="5.5" fill="#000"/>
<text x="475.6" y="266.1" font-size="8.9" font-weight="bold" text-anchor="start" fill="#1a1a1a" textLength="28.0" lengthAdjust="spacingAndGlyphs">Control</text>
<rect x="523.8" y="260.6" width="4.6" height="4.8" fill="#fff" stroke="#777" stroke-width="0.7"/>
<text x="531.1" y="266.1" font-size="8.9" font-weight="bold" text-anchor="start" fill="#1a1a1a" textLength="34.1" lengthAdjust="spacingAndGlyphs">Argan oil</text>
<text x="367.0" y="346.5" font-size="10" font-weight="bold" text-anchor="middle" fill="#111" textLength="126.0" lengthAdjust="spacingAndGlyphs" transform="rotate(-90 367.0 346.5)" style="white-space:pre" stroke="#111" stroke-width="0.45">nmol GSSG/ mg dry  cells</text>
<text x="357.8" y="246.9" font-size="15" font-weight="bold" text-anchor="start" fill="#000" textLength="9.0" lengthAdjust="spacingAndGlyphs" stroke="#000" stroke-width="0.5">d</text>
<line x1="345.6" y1="445.5" x2="345.6" y2="448.2" stroke="#8a8a8a" stroke-width="0.9"/>
</svg>
</body>
</html>
